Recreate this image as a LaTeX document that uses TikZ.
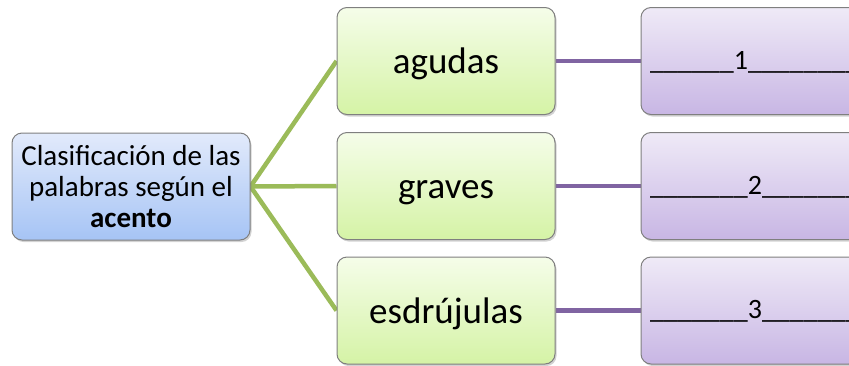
\documentclass[tikz,border=0pt]{standalone}
\usepackage{fontspec}
\setmainfont{Carlito}
\usetikzlibrary{shadows,backgrounds}
\definecolor{bluetop}{HTML}{E2EAFB}
\definecolor{bluebot}{HTML}{A6C4F5}
\definecolor{greentop}{HTML}{F5FDE9}
\definecolor{greenbot}{HTML}{D5F3A6}
\definecolor{purtop}{HTML}{EFEAF7}
\definecolor{purbot}{HTML}{C8B6E4}
\definecolor{bordergray}{HTML}{7F7F7F}
\definecolor{greenline}{HTML}{9BBB59}
\definecolor{purline}{HTML}{8064A2}
\tikzset{
  boxbase/.style={draw=bordergray, line width=1pt, rounded corners=10pt, inner sep=0pt,
    drop shadow={opacity=0.35, shadow xshift=1.5pt, shadow yshift=-2pt}},
  rootbox/.style={boxbase, top color=bluetop, bottom color=bluebot,
    minimum width=238pt, minimum height=107pt, align=center,
    font=\fontsize{29}{31}\selectfont},
  catbox/.style={boxbase, top color=greentop, bottom color=greenbot,
    minimum width=218pt, minimum height=107pt, text height=25pt, text depth=0pt,
    font=\fontsize{37}{42}\selectfont},
  blankbox/.style={boxbase, top color=purtop, bottom color=purbot,
    minimum width=218pt, minimum height=107pt},
  blanktext/.style={anchor=west, inner sep=0pt, font=\fontsize{28}{32}\selectfont},
  greenconn/.style={draw=greenline, line width=4.5pt},
  purconn/.style={draw=purline, line width=4.5pt}
}
\begin{document}
\begin{tikzpicture}[x=1pt,y=-1pt]
\path[use as bounding box, clip] (0,0) rectangle (849,365);
\node[rootbox] (root) at (131,186.5) {Clasificación de las\\palabras según el\\\textbf{acento}};
\node[catbox] (ag) at (446,61) {agudas};
\node[catbox] (gr) at (446,186) {graves};
\node[catbox] (es) at (446,310.5) {esdrújulas};
\node[blankbox] (b1) at (750,61) {};
\node[blankbox] (b2) at (750,186) {};
\node[blankbox] (b3) at (750,310.5) {};
\node[blanktext] (t1) at (650,62) {\_\_\_\_\_\_1\_\_\_\_\_\_\_\_};
\node[blanktext] (t2) at (650,187) {\_\_\_\_\_\_\_2\_\_\_\_\_\_\_};
\node[blanktext] (t3) at (650,311.5) {\_\_\_\_\_\_\_3\_\_\_\_\_\_\_};
\begin{scope}[on background layer]
\draw[greenconn] (root.east) -- (ag.west);
\draw[greenconn] (root.east) -- (gr.west);
\draw[greenconn] (root.east) -- (es.west);
\draw[purconn] (ag.east) -- (b1.west);
\draw[purconn] (gr.east) -- (b2.west);
\draw[purconn] (es.east) -- (b3.west);
\end{scope}
\end{tikzpicture}
\end{document}
